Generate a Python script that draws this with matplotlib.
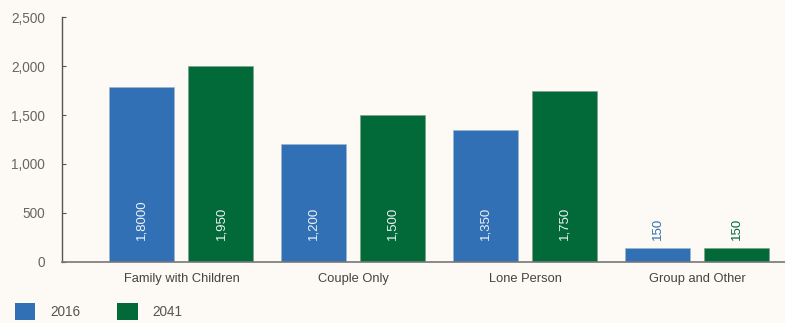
import numpy as np
import matplotlib
matplotlib.use('Agg')
from matplotlib import pyplot as plt
from matplotlib.patches import Patch

# household types, 2016 vs 2041
categories = ['Family with Children', 'Couple Only', 'Lone Person', 'Group and Other']
values_2016 = [1790, 1200, 1350, 135]
values_2041 = [2000, 1500, 1750, 135]
labels_2016 = ['1,8000', '1,200', '1,350', '150']
labels_2041 = ['1,950', '1,500', '1,750', '150']
yticks = [0, 500, 1000, 1500, 2000, 2500]
ytick_labels = ['0', '500', '1,000', '1,500', '2,000', '2,500']
series = ['2016', '2041']

blue = '#3170b4'
green = '#016a38'
bg = '#fdf9f5'
grey = '#555555'
plt.rcParams['font.family'] = ['Liberation Sans', 'DejaVu Sans']

fig = plt.figure(figsize=(7.85, 3.23), dpi=100, facecolor=bg)
ax = fig.add_axes([61.5/785, 61.5/323, 1 - 61.5/785, 244/323])
ax.set_facecolor(bg)

x = np.arange(len(categories))
off, w = 0.23, 0.378
ax.bar(x - off, values_2016, w, color=blue, edgecolor='#9db5cc', linewidth=0.4)
ax.bar(x + off, values_2041, w, color=green, edgecolor='#7f9f88', linewidth=0.4)

# value labels: white inside the bar, bar colour above short bars
label_y = 220
for xs, vals, labs, col in [(x - off, values_2016, labels_2016, blue),
                            (x + off, values_2041, labels_2041, green)]:
    for xi, v, lab in zip(xs, vals, labs):
        c = '#eef2f7' if v > label_y + 300 else col
        ax.text(xi, label_y, lab, rotation=90, ha='center', va='bottom',
                color=c, fontsize=9.5)

ax.set_xlim(-0.698, 3.512)
ax.set_ylim(0, 2500)
ax.set_xticks(x)
ax.set_xticklabels(categories, color='#444444', fontsize=9.3)
ax.set_yticks(yticks)
ax.set_yticklabels(ytick_labels, color='#666666', fontsize=9.8)
ax.tick_params(axis='x', length=0, pad=8)
ax.tick_params(axis='y', direction='in', length=3, color=grey, pad=12)
for s in ['top', 'right']:
    ax.spines[s].set_visible(False)
ax.spines['left'].set_color(grey)
ax.spines['bottom'].set_color('#777777')
ax.spines['left'].set_linewidth(1.0)
ax.spines['bottom'].set_linewidth(1.2)

handles = [Patch(facecolor=blue), Patch(facecolor=green)]
leg = fig.legend(handles, series, loc='lower left', bbox_to_anchor=(15/785, 3/323),
                 ncol=2, frameon=False, borderpad=0, borderaxespad=0,
                 handlelength=1.5, handleheight=1.5,
                 handletextpad=1.1, columnspacing=2.7, fontsize=9.8)
for t in leg.get_texts():
    t.set_color('#555555')

fig.savefig('out.png', dpi=100, facecolor=bg)
